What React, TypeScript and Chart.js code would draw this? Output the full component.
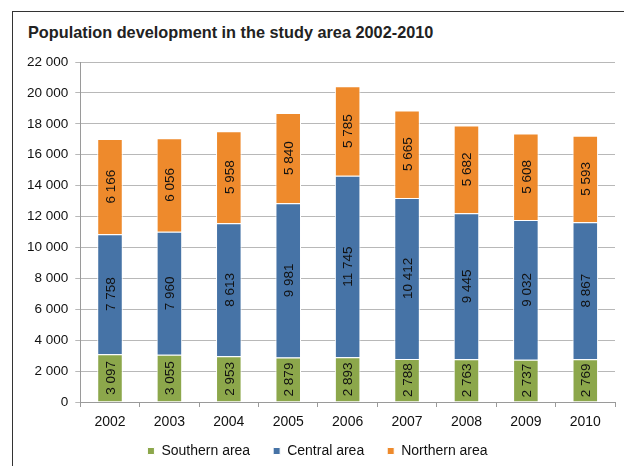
import React, { useEffect, useRef } from "react";
import { Chart, registerables } from "chart.js";

Chart.register(...registerables);

const years = ["2002", "2003", "2004", "2005", "2006", "2007", "2008", "2009", "2010"];
const southern = [3097, 3055, 2953, 2879, 2893, 2788, 2763, 2737, 2769];
const central = [7758, 7960, 8613, 9981, 11745, 10412, 9445, 9032, 8867];
const northern = [6166, 6056, 5958, 5840, 5785, 5665, 5682, 5608, 5593];
const seriesNames = ["Southern area", "Central area", "Northern area"];
const titleText = "Population development in the study area 2002-2010";

const fmt = (v: number) => String(v).replace(/\B(?=(\d{3})+(?!\d))/g, " ");

const FONT = "'Liberation Sans', Arial, Helvetica, sans-serif";

const labelPlugin = {
  id: "segLabels",
  afterDatasetsDraw(chart: any) {
    const ctx = chart.ctx;
    ctx.save();
    ctx.font = `13.5px ${FONT}`;
    ctx.fillStyle = "#111";
    ctx.textAlign = "center";
    ctx.textBaseline = "middle";
    chart.data.datasets.forEach((ds: any, i: number) => {
      const meta = chart.getDatasetMeta(i);
      meta.data.forEach((bar: any, j: number) => {
        const cy = (bar.y + bar.base) / 2;
        ctx.save();
        ctx.translate(bar.x, cy);
        ctx.rotate(-Math.PI / 2);
        ctx.fillText(fmt(ds.data[j]), 0, 1);
        ctx.restore();
      });
    });
    ctx.restore();
  },
};

export default function App() {
  const ref = useRef<HTMLCanvasElement | null>(null);
  useEffect(() => {
    if (!ref.current) return;
    const chart = new Chart(ref.current, {
      type: "bar",
      data: {
        labels: years,
        datasets: [
          { label: seriesNames[0], data: southern, backgroundColor: "#8CA74B", borderColor: "#ffffff", borderWidth: 1 },
          { label: seriesNames[1], data: central, backgroundColor: "#4673A6", borderColor: "#ffffff", borderWidth: 1 },
          { label: seriesNames[2], data: northern, backgroundColor: "#EE8A2C", borderColor: "#ffffff", borderWidth: 1 },
        ],
      },
      options: {
        animation: false,
        responsive: false,
        layout: { padding: { left: 12, right: 17, top: 54, bottom: -2 } },
        datasets: { bar: { categoryPercentage: 1, barPercentage: 0.43 } } as any,
        scales: {
          x: {
            stacked: true,
            grid: { display: true, drawOnChartArea: false, drawTicks: true, tickLength: 5, color: "#9a9a9a", offset: true },
            border: { display: true, color: "#9a9a9a" },
            ticks: { color: "#111", font: { family: FONT, size: 14 }, padding: 7 },
            afterFit: (scale: any) => {
              scale.height = 19;
              scale._computeLabelArea = () => undefined;
            },
          },
          y: {
            stacked: true,
            min: 0,
            max: 22000,
            grid: { color: "#b8b8b8", tickLength: 5 },
            border: { display: true, color: "#9a9a9a" },
            ticks: {
              stepSize: 2000,
              color: "#111",
              font: { family: FONT, size: 13.5 },
              padding: 7,
              callback: (v: any) => fmt(Number(v)),
            },
          },
        },
        plugins: {
          title: { display: false },
          tooltip: { enabled: false },
          legend: {
            position: "bottom",
            labels: {
              color: "#111",
              font: { family: FONT, size: 14 },
              boxWidth: 7,
              boxHeight: 7,
              padding: 23,
            },
          },
        },
      },
      plugins: [labelPlugin],
    });
    return () => chart.destroy();
  }, []);
  return (
    <div style={{ position: "relative", width: 624, height: 458 }}>
      <div
        style={{
          position: "absolute",
          left: 4,
          top: 3,
          width: 620,
          height: 455,
          borderTop: "1px solid #333",
          borderLeft: "1px solid #333",
          boxSizing: "border-box",
        }}
      />
      <div
        style={{
          position: "absolute",
          left: 20,
          top: 15,
          fontFamily: FONT,
          fontWeight: "bold",
          fontSize: 16.3,
          color: "#222",
          whiteSpace: "nowrap",
        }}
      >
        {titleText}
      </div>
      <canvas ref={ref} width={624} height={458} style={{ position: "absolute", left: 0, top: 0 }} />
    </div>
  );
}
